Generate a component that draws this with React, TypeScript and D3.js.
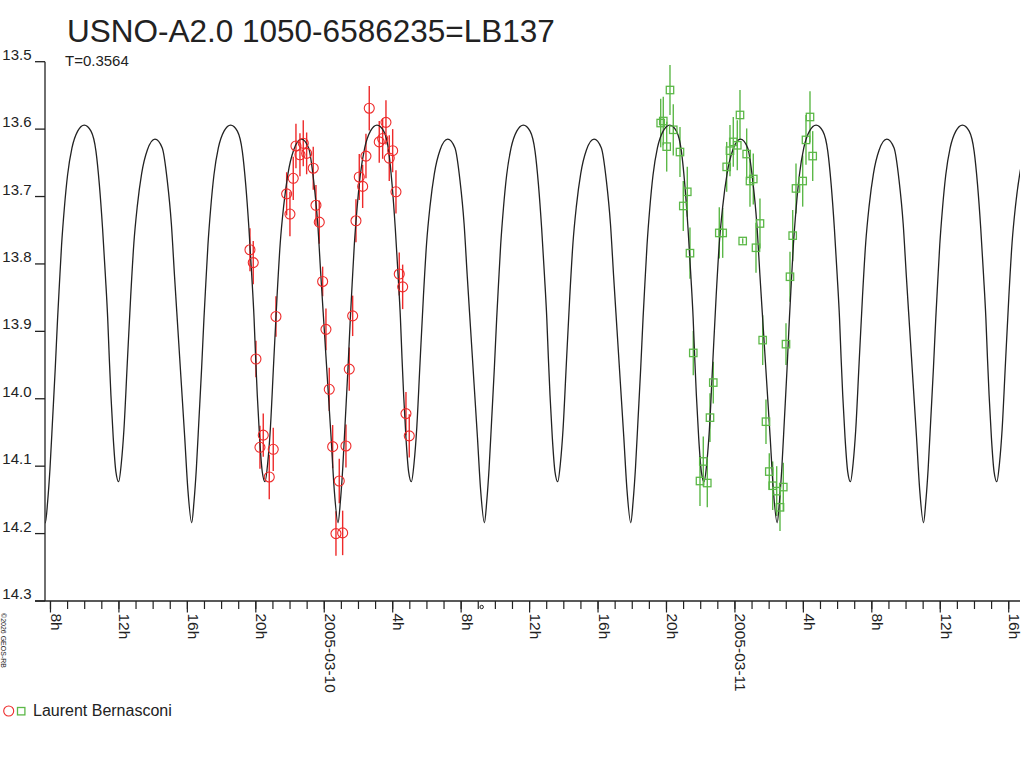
import * as d3 from "d3";

// ── Chart text ────────────────────────────────────────────────
const TITLE = "USNO-A2.0 1050-6586235=LB137";
const PERIOD_LABEL = "T=0.3564";
const OBSERVER = "Laurent Bernasconi";
const COPYRIGHT = "©2026 GEOS-RB";

// ── Axes (time in hours from 2005-03-10 00h UT) ───────────────
const X_DOMAIN = [-16.32, 40.66];
const Y_DOMAIN = [13.5, 14.3];
const Y_TICKS = [13.5, 13.6, 13.7, 13.8, 13.9, 14.0, 14.1, 14.2, 14.3];
const X_MAJOR_HOURS = [-16, -12, -8, -4, 0, 4, 8, 12, 16, 20, 24, 28, 32, 36, 40];
const X_MAJOR_LABELS = ["8h", "12h", "16h", "20h", "2005-03-10", "4h", "8h", "12h", "16h", "20h", "2005-03-11", "4h", "8h", "12h", "16h"];
const X_FIRST_HOUR = -16;
const X_LAST_HOUR = 40;
const EPOCH_MARK_HOUR = 9.2;

// ── Light-curve model: period, epoch of primary min, one cycle ─
const PERIOD_DAYS = 0.3564;
const EPOCH_HOUR = 9.36;
const MODEL_PHASE = [
  0, 0.016, 0.032, 0.05, 0.068, 0.084, 0.096, 0.111, 0.13, 0.152, 0.182, 0.221, 0.266,
  0.312, 0.346, 0.369, 0.391, 0.41, 0.426, 0.437, 0.448, 0.464, 0.482, 0.501,
  0.519, 0.537, 0.56, 0.583, 0.605, 0.628, 0.658, 0.697, 0.749,
  0.799, 0.833, 0.861, 0.883, 0.906, 0.929, 0.952, 0.974,
];
const MODEL_MAG = [
  14.184, 14.152, 14.103, 14.029, 13.954, 13.88, 13.831, 13.772, 13.717, 13.668, 13.628, 13.603, 13.594,
  13.603, 13.633, 13.682, 13.747, 13.816, 13.88, 13.94, 13.994, 14.058, 14.108, 14.123,
  14.096, 14.046, 13.947, 13.849, 13.769, 13.715, 13.666, 13.631, 13.615,
  13.628, 13.676, 13.74, 13.819, 13.898, 13.977, 14.056, 14.135,
];

// ── Observations, night 1 (red circles) ───────────────────────
const N1_HOUR = [
  -4.342, -4.15, -3.992, -3.758, -3.565, -3.214, -2.981, -2.823, -2.198, -2.005, -1.812,
  -1.654, -1.42, -1.227, -1.029, -0.643, -0.485, -0.292, -0.094, 0.099, 0.292, 0.491,
  0.684, 0.877, 1.075, 1.268, 1.461, 1.66, 1.853, 2.046, 2.244, 2.437, 2.63,
  3.214, 3.413, 3.606, 3.799, 3.998, 4.191, 4.383, 4.582, 4.775, 4.968,
];
const N1_MAG = [
  13.779, 13.798, 13.941, 14.072, 14.054, 14.116, 14.075, 13.878, 13.696, 13.726, 13.673,
  13.625, 13.638, 13.621, 13.636, 13.658, 13.713, 13.738, 13.826, 13.897, 13.986, 14.071,
  14.2, 14.122, 14.199, 14.07, 13.956, 13.877, 13.736, 13.671, 13.685, 13.64, 13.569,
  13.619, 13.614, 13.59, 13.643, 13.632, 13.693, 13.815, 13.834, 14.022, 14.055,
];
const N1_ERR = [
  0.032, 0.032, 0.027, 0.032, 0.032, 0.033, 0.032, 0.03, 0.032, 0.033, 0.032,
  0.033, 0.032, 0.034, 0.031, 0.032, 0.03, 0.032, 0.022, 0.031, 0.032, 0.032,
  0.033, 0.033, 0.033, 0.032, 0.032, 0.03, 0.032, 0.034, 0.032, 0.033, 0.033,
  0.031, 0.03, 0.033, 0.034, 0.032, 0.032, 0.032, 0.033, 0.032, 0.032,
];

// ── Observations, night 2 (green squares) ─────────────────────
const N2_HOUR = [
  19.661, 19.813, 20.012, 20.205, 20.397, 20.789, 20.982, 21.216, 21.373, 21.566, 21.958,
  22.151, 22.385, 22.543, 22.735, 23.086, 23.285, 23.518, 23.711, 23.904, 24.138, 24.296,
  24.454, 24.687, 24.88, 25.073, 25.231, 25.464, 25.622, 25.815, 26.008, 26.207, 26.441,
  26.634, 26.826, 26.984, 27.218, 27.376, 27.569, 27.96, 28.153, 28.387, 28.545,
];
const N2_MAG = [
  13.591, 13.588, 13.626, 13.542, 13.601, 13.634, 13.714, 13.693, 13.784, 13.932, 14.122,
  14.093, 14.125, 14.028, 13.976, 13.754, 13.754, 13.656, 13.632, 13.619, 13.624, 13.579,
  13.766, 13.637, 13.677, 13.674, 13.776, 13.74, 13.913, 14.034, 14.108, 14.129, 14.137,
  14.161, 14.131, 13.919, 13.819, 13.758, 13.688, 13.677, 13.616, 13.582, 13.64,
];
const N2_ERR = [
  0.036, 0.036, 0.037, 0.037, 0.038, 0.037, 0.037, 0.037, 0.038, 0.033, 0.037,
  0.037, 0.036, 0.036, 0.031, 0.038, 0.037, 0.037, 0.038, 0.037, 0.037, 0.037,
  0.004, 0.038, 0.038, 0.038, 0.037, 0.037, 0.037, 0.033, 0.027, 0.036, 0.037,
  0.035, 0.036, 0.031, 0.037, 0.038, 0.037, 0.038, 0.037, 0.038, 0.037,
];

const RED = "#ee2a2a";
const GREEN = "#5cb848";
const INK = "#222";
const FONT = "'Liberation Sans', Arial, sans-serif";

const W = 1024;
const H = 768;
const LEFT = 45;
const RIGHT = 1020;
const TOP = 61.7;
const BOTTOM = 601;

export default function App() {
  const x = d3.scaleLinear().domain(X_DOMAIN).range([LEFT, RIGHT]);
  const y = d3.scaleLinear().domain(Y_DOMAIN).range([TOP, BOTTOM]);

  // tile the one-cycle model over the whole time span
  const periodH = PERIOD_DAYS * 24;
  const kFirst = Math.floor((X_DOMAIN[0] - EPOCH_HOUR) / periodH) - 1;
  const kLast = Math.ceil((X_DOMAIN[1] - EPOCH_HOUR) / periodH) + 1;
  const model: [number, number][] = [];
  for (let k = kFirst; k <= kLast; k++) {
    MODEL_PHASE.forEach((p, i) => {
      model.push([EPOCH_HOUR + (k + p) * periodH, MODEL_MAG[i]]);
    });
  }
  const line = d3
    .line<[number, number]>()
    .x((d) => x(d[0]))
    .y((d) => y(d[1]))
    .curve(d3.curveMonotoneX);

  const night1 = N1_HOUR.map((h, i) => ({ h, m: N1_MAG[i], e: N1_ERR[i] }));
  const night2 = N2_HOUR.map((h, i) => ({ h, m: N2_MAG[i], e: N2_ERR[i] }));
  const minorHours = d3.range(X_FIRST_HOUR, X_LAST_HOUR + 1);

  return (
    <div style={{ position: "absolute", left: 0, top: 0 }}>
      <svg width={W} height={H} style={{ display: "block", background: "#fff" }} fontFamily={FONT}>
        <defs>
          <clipPath id="plot">
            <rect x={LEFT} y={0} width={RIGHT - LEFT} height={BOTTOM} />
          </clipPath>
        </defs>

        <text x={67} y={41.7} fontSize={31.5} fill={INK}>{TITLE}</text>
        <text x={65} y={65.7} fontSize={15} fill={INK}>{PERIOD_LABEL}</text>

        {/* y axis */}
        <line x1={LEFT} x2={LEFT} y1={y(Y_DOMAIN[0])} y2={BOTTOM} stroke={INK} strokeWidth={1.3} />
        {Y_TICKS.map((t) => (
          <g key={t}>
            <line x1={35} x2={LEFT} y1={y(t)} y2={y(t)} stroke={INK} strokeWidth={1.3} />
            <text x={31.5} y={y(t) - 2} fontSize={15} textAnchor="end" fill={INK}>{t.toFixed(1)}</text>
          </g>
        ))}

        {/* x axis */}
        <line x1={35} x2={RIGHT} y1={BOTTOM} y2={BOTTOM} stroke={INK} strokeWidth={1.3} />
        {minorHours.map((h) => (
          <line key={h} x1={x(h)} x2={x(h)} y1={BOTTOM} y2={BOTTOM + 8} stroke={INK} strokeWidth={1.2} />
        ))}
        {X_MAJOR_HOURS.map((h, i) => (
          <g key={h}>
            <line x1={x(h)} x2={x(h)} y1={BOTTOM} y2={BOTTOM + 11.5} stroke={INK} strokeWidth={1.2} />
            <text
              transform={`translate(${x(h) + 0.5},${BOTTOM + 12.5}) rotate(90)`}
              fontSize={15.5}
              fill={INK}
            >
              {X_MAJOR_LABELS[i]}
            </text>
          </g>
        ))}
        <circle cx={x(EPOCH_MARK_HOUR)} cy={BOTTOM + 6} r={1.7} fill="none" stroke={INK} strokeWidth={1} />

        {/* error bars */}
        <g strokeWidth={1.4}>
          {night1.map((d, i) => (
            <line key={"e1" + i} x1={x(d.h)} x2={x(d.h)} y1={y(d.m - d.e)} y2={y(d.m + d.e)} stroke={RED} />
          ))}
          {night2.map((d, i) => (
            <line key={"e2" + i} x1={x(d.h)} x2={x(d.h)} y1={y(d.m - d.e)} y2={y(d.m + d.e)} stroke={GREEN} />
          ))}
        </g>

        {/* model light curve */}
        <path d={line(model) ?? ""} fill="none" stroke={INK} strokeWidth={1.3} clipPath="url(#plot)" />

        {/* markers */}
        {night1.map((d, i) => (
          <circle key={"c" + i} cx={x(d.h)} cy={y(d.m)} r={5} fill="none" stroke={RED} strokeWidth={1.1} />
        ))}
        {night2.map((d, i) => (
          <rect key={"s" + i} x={x(d.h) - 3.7} y={y(d.m) - 3.7} width={7.4} height={7.4} fill="none" stroke={GREEN} strokeWidth={1.3} />
        ))}

        {/* legend */}
        <circle cx={8.7} cy={711} r={5} fill="none" stroke={RED} strokeWidth={1.1} />
        <rect x={17.5} y={707.5} width={7.4} height={7.4} fill="none" stroke={GREEN} strokeWidth={1.3} />
        <text x={33} y={716} fontSize={16} fill={INK}>{OBSERVER}</text>

        <text transform="translate(1,613) rotate(90)" fontSize={7} fill={INK}>{COPYRIGHT}</text>
      </svg>
    </div>
  );
}
